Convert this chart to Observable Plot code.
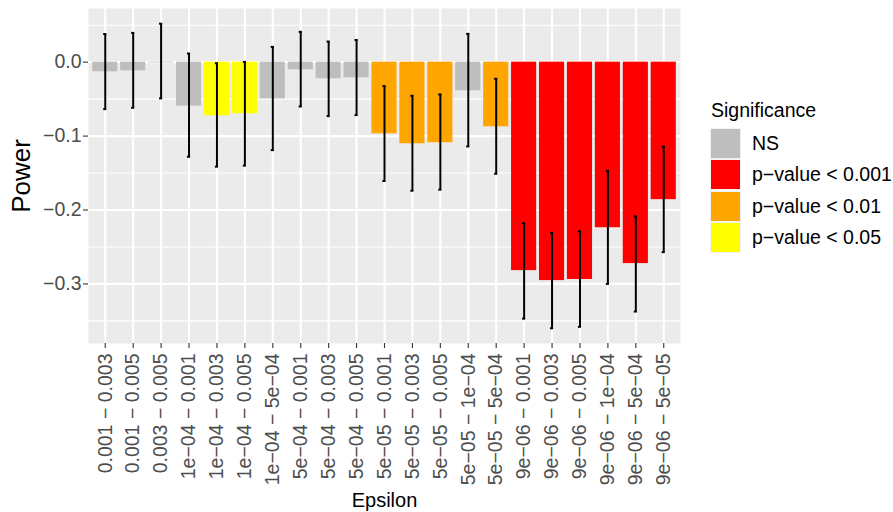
<!DOCTYPE html>
<html>
<head>
<meta charset="utf-8">
<script src="https://cdn.jsdelivr.net/npm/d3@7"></script>
<script src="https://cdn.jsdelivr.net/npm/@observablehq/plot@0.6"></script>
<style>
  html, body { margin: 0; padding: 0; background: #fff; }
  #wrap { position: relative; width: 893px; height: 512px; font-family: "Liberation Sans", Arial, sans-serif; }
  #legend { position: absolute; left: 0; top: 0; }
  .ltitle { position: absolute; left: 711px; top: 101px; font-size: 19.5px; line-height: 19px; color: #000; white-space: nowrap; }
  .lkey { position: absolute; left: 710px; width: 31px; height: 31px; background: #F2F2F2; box-sizing: border-box; }
  .lkey > div { position: absolute; left: 1px; top: 1px; right: 1px; bottom: 1px; }
  .llab { position: absolute; left: 752px; font-size: 19.5px; line-height: 31px; height: 31px; color: #000; white-space: nowrap; }
</style>
</head>
<body>
<div id="wrap"><div id="legend"></div></div>
<script>
const epsilon = ["0.001 − 0.003","0.001 − 0.005","0.003 − 0.005","1e−04 − 0.001","1e−04 − 0.003","1e−04 − 0.005","1e−04 − 5e−04","5e−04 − 0.001","5e−04 − 0.003","5e−04 − 0.005","5e−05 − 0.001","5e−05 − 0.003","5e−05 − 0.005","5e−05 − 1e−04","5e−05 − 5e−04","9e−06 − 0.001","9e−06 − 0.003","9e−06 − 0.005","9e−06 − 1e−04","9e−06 − 5e−04","9e−06 − 5e−05"];
const power = [-0.013,-0.0117,-0.001,-0.0595,-0.0725,-0.0698,-0.0496,-0.0104,-0.0225,-0.0212,-0.0969,-0.1104,-0.109,-0.0387,-0.0874,-0.282,-0.2955,-0.294,-0.224,-0.2725,-0.186];
const lower = [-0.0635,-0.0617,-0.049,-0.128,-0.1414,-0.140,-0.119,-0.060,-0.073,-0.0716,-0.1608,-0.1739,-0.1725,-0.114,-0.151,-0.347,-0.360,-0.358,-0.300,-0.3374,-0.257];
const upper = [0.038,0.0396,0.052,0.0117,-0.0014,0.0004,0.0207,0.041,0.0279,0.030,-0.0324,-0.0455,-0.0437,0.0383,-0.0225,-0.218,-0.231,-0.229,-0.147,-0.2085,-0.1144];
const significance = ["NS","NS","NS","NS","p−value < 0.05","p−value < 0.05","NS","NS","NS","NS","p−value < 0.01","p−value < 0.01","p−value < 0.01","NS","p−value < 0.01","p−value < 0.001","p−value < 0.001","p−value < 0.001","p−value < 0.001","p−value < 0.001","p−value < 0.001"];

const sigLevels = ["NS","p−value < 0.001","p−value < 0.01","p−value < 0.05"];
const sigColors = ["#BEBEBE","#FF0000","#FFA500","#FFFF00"];
const yTicks = [0, -0.1, -0.2, -0.3];
const yTickLabels = ["0.0","−0.1","−0.2","−0.3"];
const yMinor = [0.05, -0.05, -0.15, -0.25, -0.35];

const data = epsilon.map((e, i) => ({eps: e, power: power[i], lo: lower[i], hi: upper[i], sig: significance[i]}));

const font = '"Liberation Sans", Arial, sans-serif';

const chart = Plot.plot({
  width: 893,
  height: 512,
  marginLeft: 88,
  marginRight: 213,
  marginTop: 8,
  marginBottom: 169,
  style: {fontFamily: font, background: "transparent"},
  x: {domain: epsilon, paddingInner: 0.1, paddingOuter: 0.15, round: false, label: null},
  y: {domain: [-0.3806, 0.0726], label: null},
  color: {domain: sigLevels, range: sigColors, legend: false},
  marks: [
    Plot.frame({fill: "#EBEBEB", stroke: null}),
    Plot.ruleY(yMinor, {stroke: "#FFFFFF", strokeWidth: 1.1}),
    Plot.ruleY(yTicks, {stroke: "#FFFFFF", strokeWidth: 2.1}),
    Plot.gridX({stroke: "#FFFFFF", strokeOpacity: 1, strokeWidth: 2.1}),
    Plot.barY(data, {x: "eps", y: "power", fill: "sig"}),
    Plot.ruleX(data, {x: "eps", y1: "lo", y2: "hi", stroke: "#000", strokeWidth: 2}),
    Plot.tickY(data, {x: "eps", y: "lo", stroke: "#000", strokeWidth: 2, insetLeft: 11, insetRight: 11}),
    Plot.tickY(data, {x: "eps", y: "hi", stroke: "#000", strokeWidth: 2, insetLeft: 11, insetRight: 11}),
    Plot.axisY({ticks: yTicks, tickFormat: (d, i) => yTickLabels[i], tickSize: 5, tickPadding: 2, stroke: "#333333", fill: "#4D4D4D", fontSize: 19.5, label: null, strokeWidth: 1.1}),
    Plot.axisX({tickSize: 5, tickPadding: 5, tickRotate: -90, stroke: "#333333", fill: "#4D4D4D", fontSize: 19.5, label: null, strokeWidth: 1.1}),
    Plot.text(["Power"], {frameAnchor: "left", dx: -67, rotate: -90, fontSize: 26, fill: "#000", lineAnchor: "middle", textAnchor: "middle"}),
    Plot.text(["Epsilon"], {frameAnchor: "bottom", dy: 157, fontSize: 20, fill: "#000", lineAnchor: "middle", textAnchor: "middle"})
  ]
});

const wrap = document.getElementById("wrap");
wrap.insertBefore(chart, wrap.firstChild);

const legend = document.getElementById("legend");
const title = document.createElement("div");
title.className = "ltitle";
title.textContent = "Significance";
legend.appendChild(title);
sigLevels.forEach((lvl, i) => {
  const top = 127.8 + i * 31.5;
  const key = document.createElement("div");
  key.className = "lkey";
  key.style.top = top + "px";
  const inner = document.createElement("div");
  inner.style.background = sigColors[i];
  key.appendChild(inner);
  legend.appendChild(key);
  const lab = document.createElement("div");
  lab.className = "llab";
  lab.style.top = top + "px";
  lab.textContent = lvl;
  legend.appendChild(lab);
});
</script>
</body>
</html>
